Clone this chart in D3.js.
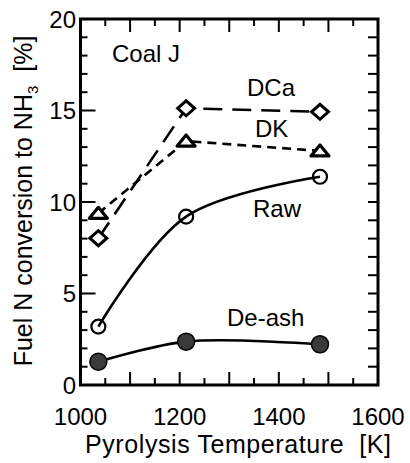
<!DOCTYPE html>
<html>
<head>
<meta charset="utf-8">
<script src="https://cdn.jsdelivr.net/npm/d3@7"></script>
<style>
  body { margin: 0; background: #fff; }
  svg text { font-family: "Liberation Sans", Arial, sans-serif; fill: #000; }
</style>
</head>
<body>
<div id="chart"></div>
<script>
// pyrolysis temperature [K] for every series
const temps = [1036, 1213, 1483]

// fuel N conversion to NH3 [%]
const rawVals   = [3.19, 9.2, 11.38]
const deashVals = [1.27, 2.37, 2.22]
const dcaVals   = [8.02, 15.12, 14.93]
const dkVals    = [9.38, 13.33, 12.79]

const xLabelTicks = [1000, 1200, 1400, 1600]
const yLabelTicks = [0, 5, 10, 15, 20]

const W = 410, H = 463
const x = d3.scaleLinear().domain([1000, 1600]).range([80.5, 378])
const y = d3.scaleLinear().domain([0, 20]).range([385, 19])

const svg = d3.select("#chart").append("svg")
  .attr("width", W).attr("height", H)

// ticks, all pointing inward
const tickG = svg.append("g").attr("stroke", "#000").attr("stroke-width", 2)

d3.range(1050, 1600, 50).forEach(t => {
  const major = t % 100 == 0
  const len = major ? 13 : 7
  tickG.append("line").attr("x1", x(t)).attr("x2", x(t)).attr("y1", y(0)).attr("y2", y(0) - len)
  tickG.append("line").attr("x1", x(t)).attr("x2", x(t)).attr("y1", y(20)).attr("y2", y(20) + len)
})

d3.range(1, 20).forEach(t => {
  const len = t % 5 == 0 ? 15 : 7
  tickG.append("line").attr("x1", x(1000)).attr("x2", x(1000) + len).attr("y1", y(t)).attr("y2", y(t))
  tickG.append("line").attr("x1", x(1600)).attr("x2", x(1600) - 10).attr("y1", y(t)).attr("y2", y(t))
})

// frame
svg.append("rect")
  .attr("x", x(1000)).attr("y", y(20))
  .attr("width", x(1600) - x(1000)).attr("height", y(0) - y(20))
  .attr("fill", "none").attr("stroke", "#000").attr("stroke-width", 3)

// tick labels
svg.append("g").selectAll("text")
  .data(xLabelTicks)
  .join("text")
  .attr("x", d => x(d)).attr("y", 425)
  .attr("text-anchor", "middle")
  .attr("font-size", 24)
  .text(d => d)

svg.append("g").selectAll("text")
  .data(yLabelTicks)
  .join("text")
  .attr("x", 76).attr("y", d => y(d) + 8.5)
  .attr("text-anchor", "end")
  .attr("font-size", 24)
  .text(d => d)

// axis titles
svg.append("text")
  .attr("x", 238).attr("y", 453)
  .attr("text-anchor", "middle")
  .attr("font-size", 25)
  .attr("xml:space", "preserve")
  .attr("textLength", 306)
  .text("Pyrolysis Temperature  [K]")

const yTitle = svg.append("text")
  .attr("transform", "translate(32,201) rotate(-90)")
  .attr("text-anchor", "middle")
  .attr("font-size", 25)
  .attr("xml:space", "preserve")
yTitle.append("tspan").text("Fuel N conversion to NH")
yTitle.append("tspan").attr("font-size", 15).attr("dy", 6).text("3")
yTitle.append("tspan").attr("dy", -6).text("  [%]")

// lines
const pts = vals => vals.map((v, i) => [x(temps[i]), y(v)])
const curved = d3.line().curve(d3.curveCatmullRom)
const straight = d3.line()

const lineG = svg.append("g").attr("fill", "none").attr("stroke", "#000")

lineG.append("path").attr("d", straight(pts(dcaVals)))
  .attr("stroke-width", 2.6).attr("stroke-dasharray", "19,10")
lineG.append("path").attr("d", straight(pts(dkVals)))
  .attr("stroke-width", 2.6).attr("stroke-dasharray", "9,6")
lineG.append("path").attr("d", curved(pts(rawVals)))
  .attr("stroke-width", 2.6)
lineG.append("path").attr("d", curved(pts(deashVals)))
  .attr("stroke-width", 2.6)

// markers
const markG = svg.append("g").attr("stroke", "#000")

markG.selectAll(".raw").data(pts(rawVals)).join("circle")
  .attr("cx", d => d[0]).attr("cy", d => d[1]).attr("r", 7)
  .attr("fill", "none").attr("stroke-width", 2.2)

markG.selectAll(".deash").data(pts(deashVals)).join("circle")
  .attr("cx", d => d[0]).attr("cy", d => d[1]).attr("r", 8.5)
  .attr("fill", "#3a3a3a").attr("stroke-width", 1.5)

markG.selectAll(".dca").data(pts(dcaVals)).join("path")
  .attr("d", d => `M${d[0] - 8.5},${d[1]} L${d[0]},${d[1] - 7.5} L${d[0] + 8.5},${d[1]} L${d[0]},${d[1] + 7.5} Z`)
  .attr("fill", "#fff").attr("stroke-width", 3)

markG.selectAll(".dk").data(pts(dkVals)).join("path")
  .attr("d", d => `M${d[0] - 9},${d[1] + 5} L${d[0]},${d[1] - 6} L${d[0] + 9},${d[1] + 5} Z`)
  .attr("fill", "#fff").attr("stroke-width", 3.2).attr("stroke-linejoin", "round")

// series labels
const labels = [
  {text: "Coal J", x: 112, y: 62},
  {text: "DCa", x: 247, y: 96},
  {text: "DK", x: 255, y: 137},
  {text: "Raw", x: 253, y: 217},
  {text: "De-ash", x: 227, y: 326}
]
svg.append("g").selectAll("text")
  .data(labels)
  .join("text")
  .attr("x", d => d.x).attr("y", d => d.y)
  .attr("font-size", 24)
  .text(d => d.text)
</script>
</body>
</html>
